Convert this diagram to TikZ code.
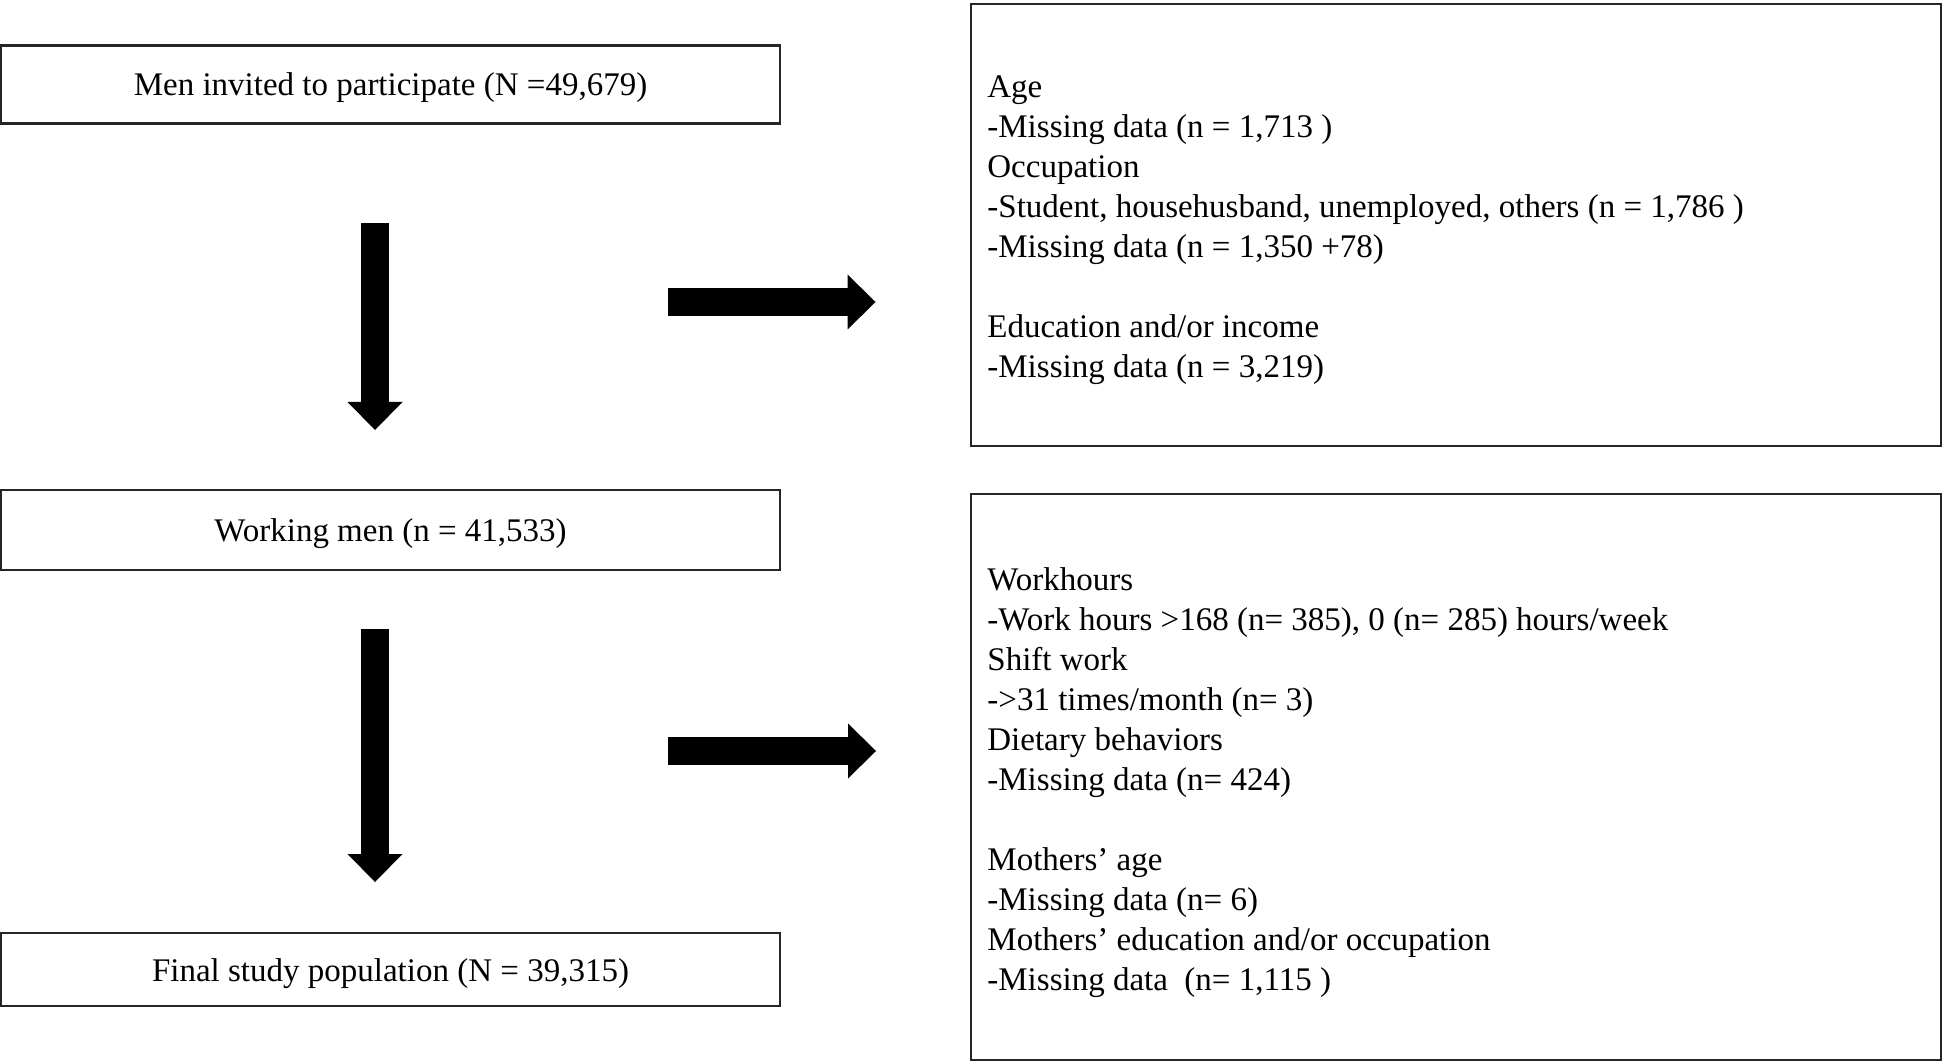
\documentclass[tikz,border=0pt]{standalone}
\usepackage{fontspec}
\setmainfont{Liberation Serif}
\usetikzlibrary{arrows.meta}
\tikzset{
  box/.style={draw=black!85, line width=1.1pt, rectangle, inner sep=0pt,
    font=\fontsize{16.5}{20}\selectfont, text height=13pt, text depth=1.5pt},
  listtext/.style={anchor=base west, align=left, inner sep=0pt,
    font=\fontsize{16.5}{20}\selectfont},
  bigarrow/.style={line width=14pt, black,
    -{Triangle[length=14pt,width=27.5pt,line width=0pt]}}
}
\begin{document}
\begin{tikzpicture}[x=0.5pt,y=-0.5pt]
\useasboundingbox (0,0) rectangle (1946,1063);
% left column boxes
\node[box, minimum width=389.5pt, minimum height=39pt] (invited) at (390.5,84.5)
  {Men invited to participate\ (N =49,679)};
\node[box, minimum width=389.5pt, minimum height=40pt] (working) at (390.5,530)
  {Working men (n = 41,533)};
\node[box, minimum width=389.5pt, minimum height=36.5pt] (final) at (390.5,969.5)
  {Final study population (N = 39,315)};
% right column boxes
\node[box, minimum width=485pt, minimum height=221pt] (excl1) at (1456,225) {};
\node[box, minimum width=485pt, minimum height=283pt] (excl2) at (1456,777) {};
% texts of exclusion boxes (anchored at the baseline of the last line)
\node[listtext] (excl1text) at (987,378) {Age\\
-Missing data (n = 1,713 )\\
Occupation\\
-Student, househusband, unemployed, others (n = 1,786 )\\
-Missing data (n = 1,350 +78)\\[20pt]
Education and/or income\\
-Missing data (n = 3,219)};
\node[listtext] (excl2text) at (987,990) {Workhours\\
-Work hours >168 (n= 385), 0 (n= 285) hours/week\\
Shift work\\
->31 times/month (n= 3)\\
Dietary behaviors\\
-Missing data (n= 424)\\[20pt]
Mothers’ age\\
-Missing data (n= 6)\\
Mothers’ education and/or occupation\\
-Missing data\ \ (n= 1,115 )};
% arrow end points
\coordinate (d1s) at (375,223);
\coordinate (d1e) at (375,430);
\coordinate (d2s) at (375,629);
\coordinate (d2e) at (375,882);
\coordinate (r1s) at (668,302);
\coordinate (r1e) at (875.5,302);
\coordinate (r2s) at (668,751);
\coordinate (r2e) at (876,751);
\draw[bigarrow] (d1s) -- (d1e);
\draw[bigarrow] (d2s) -- (d2e);
\draw[bigarrow] (r1s) -- (r1e);
\draw[bigarrow] (r2s) -- (r2e);
\end{tikzpicture}
\end{document}
